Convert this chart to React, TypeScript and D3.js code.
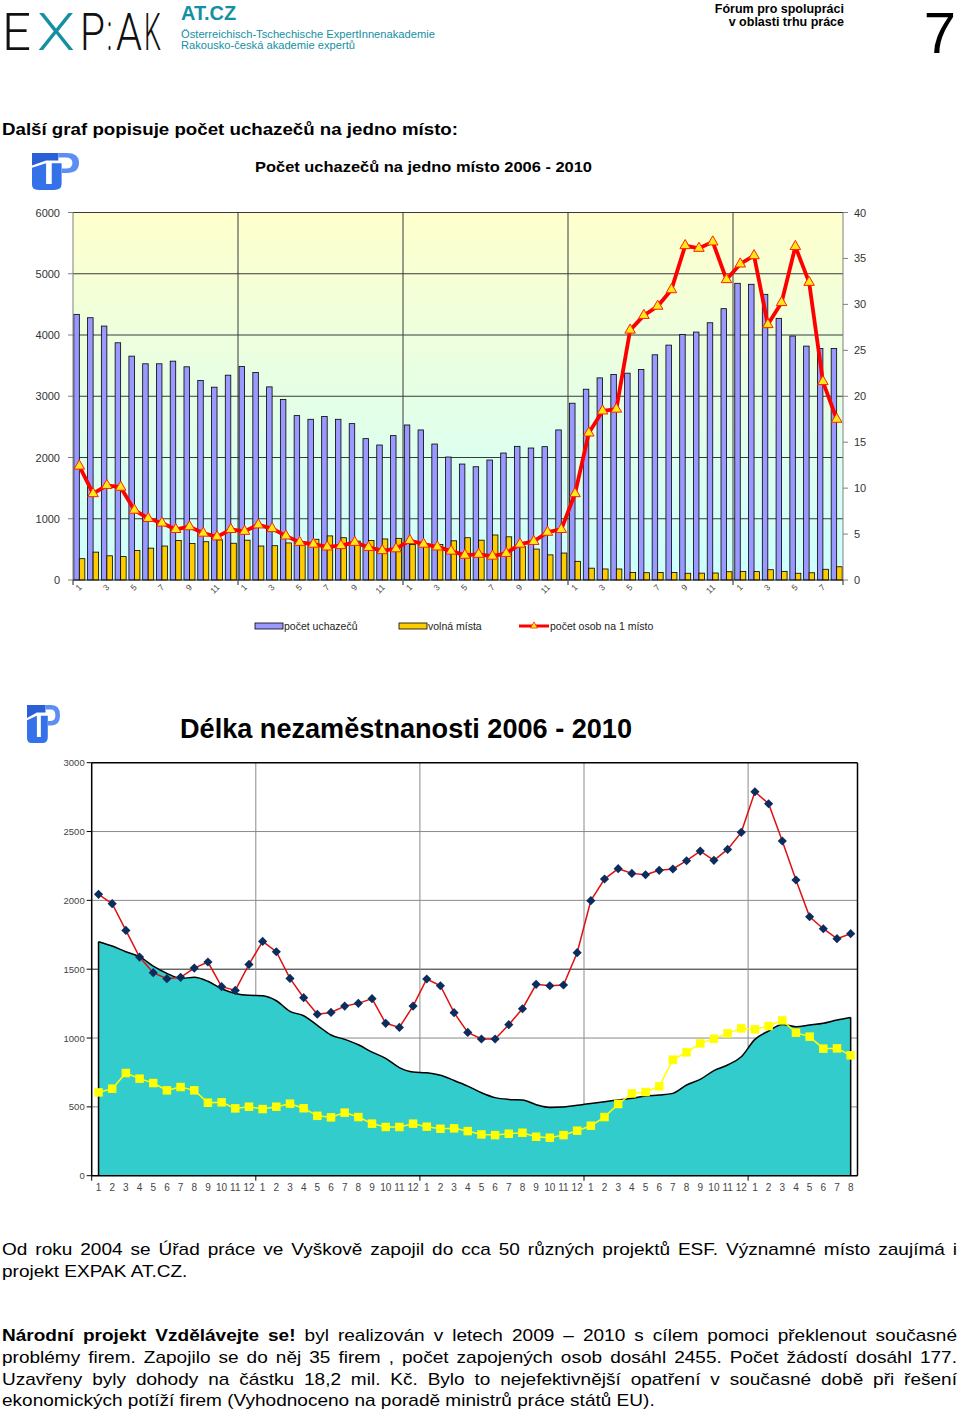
import React, { useEffect, useRef } from 'react';
import * as d3 from 'd3';

// months shown on both charts: 2006-2009 full years, 2010 until August
const years = ['2006', '2007', '2008', '2009', '2010'];
const monthCounts = [12, 12, 12, 12, 8];

// chart 1: pocet uchazecu / volna mista (left axis), osob na 1 misto (right axis)
const uchazeci = [
  4337, 4282, 4146, 3873, 3655, 3530, 3530, 3573, 3481, 3257, 3148, 3344,
  3486, 3388, 3153, 2946, 2684, 2624, 2668, 2624, 2553, 2308, 2204, 2357,
  2531, 2450, 2220, 2008, 1893, 1849, 1959, 2073, 2182, 2155, 2177, 2450,
  2886, 3115, 3300, 3355, 3377, 3437, 3677, 3835, 4010, 4048, 4200, 4430,
  4844, 4828, 4664, 4272, 3983, 3819, 3781, 3781,
];
const volnaMista = [
  348, 455, 395, 382, 480, 520, 555, 645, 595, 625, 655, 600,
  650, 555, 560, 605, 625, 665, 720, 690, 635, 645, 670, 680,
  580, 590, 580, 640, 690, 650, 735, 705, 550, 505, 410, 440,
  305, 193, 180, 180, 124, 119, 123, 121, 110, 112, 114, 135,
  141, 137, 168, 141, 110, 118, 175, 216,
];
const osobNaMisto = [
  12.4, 9.4, 10.3, 10.1, 7.6, 6.7, 6.2, 5.5, 5.8, 5.1, 4.7, 5.5,
  5.3, 6.0, 5.6, 4.8, 4.1, 3.9, 3.6, 3.75, 4.1, 3.55, 3.2, 3.4,
  4.3, 3.9, 3.6, 3.15, 2.7, 2.8, 2.6, 2.9, 3.9, 4.2, 5.2, 5.5,
  9.4, 16.0, 18.4, 18.6, 27.2, 28.8, 29.8, 31.6, 36.4, 36.1, 36.8, 32.7,
  34.4, 35.3, 27.8, 30.2, 36.3, 32.4, 21.6, 17.5,
];
const leftTicks1 = [0, 1000, 2000, 3000, 4000, 5000, 6000];
const rightTicks1 = [0, 5, 10, 15, 20, 25, 30, 35, 40];
const xLabelMonths1 = [1, 3, 5, 7, 9, 11];

// chart 2: delka nezamestnanosti
const delkaPlocha = [
  1700, 1668, 1627, 1591, 1523, 1470, 1433, 1441, 1412, 1358, 1324, 1310,
  1307, 1271, 1194, 1162, 1092, 1022, 990, 951, 898, 852, 785, 753,
  748, 729, 692, 651, 603, 567, 554, 550, 516, 496, 499, 511,
  525, 538, 550, 562, 579, 586, 598, 659, 700, 763, 804, 864,
  990, 1051, 1099, 1082, 1094, 1107, 1131, 1150,
];
const delkaCervena = [
  2044, 1976, 1782, 1588, 1475, 1431, 1441, 1508, 1552, 1373, 1346, 1535,
  1702, 1627, 1433, 1293, 1173, 1186, 1232, 1252, 1286, 1107, 1077, 1232,
  1429, 1380, 1184, 1041, 993, 993, 1097, 1213, 1390, 1380, 1385, 1620,
  1998, 2155, 2230, 2196, 2186, 2218, 2228, 2288, 2358, 2291, 2370, 2494,
  2789, 2702, 2431, 2148, 1881, 1794, 1722, 1758,
];
const delkaZluta = [
  605, 632, 746, 705, 673, 620, 644, 620, 530, 533, 489, 501,
  484, 501, 523, 490, 435, 424, 458, 426, 378, 354, 354, 378,
  356, 341, 344, 324, 300, 295, 305, 312, 283, 276, 295, 327,
  363, 426, 521, 598, 608, 649, 843, 896, 961, 995, 1034, 1070,
  1063, 1087, 1128, 1039, 1010, 923, 925, 874,
];
const ticks2 = [0, 500, 1000, 1500, 2000, 2500, 3000];

const legend1 = ['počet uchazečů', 'volná místa', 'počet osob na 1 místo'];

const para1 = [
  'Od roku 2004 se Úřad práce ve Vyškově zapojil do cca 50 různých projektů ESF. Významné místo zaujímá i',
  'projekt EXPAK AT.CZ.',
];
const para2Bold = 'Národní projekt Vzdělávejte se!';
const para2 = [
  ' byl realizován  v letech 2009 – 2010 s cílem pomoci překlenout současné',
  'problémy firem. Zapojilo se do něj 35  firem , počet zapojených osob dosáhl 2455. Počet žádostí dosáhl 177.',
  'Uzavřeny byly dohody na částku 18,2 mil. Kč. Bylo to nejefektivnější opatření v současné době při řešení',
  'ekonomických potíží firem (Vyhodnoceno na poradě ministrů práce  států EU).',
];

const FONT = '"Liberation Sans", Arial, sans-serif';
const TEAL = '#1590a3';

const months = years.flatMap((y, i) =>
  d3.range(1, monthCounts[i] + 1).map((m) => ({ key: `${y}-${m}`, year: y, m }))
);
const keys = months.map((d) => d.key);
const yearStarts = months.filter((d) => d.m === 1);

function drawLogo(g, x, y, w, h) {
  const lg = g.append('g').attr('transform', `translate(${x},${y}) scale(${w},${h})`);
  lg.append('path')
    .attr('d', 'M0,0 L0.56,0 L0.56,0.2 L0.3,0.2 L0,0.34 Z')
    .attr('fill', '#2a5fd8');
  lg.append('path')
    .attr('d', 'M0,0.4 L0.3,0.28 L0.3,0.84 L0.42,0.84 L0.42,0.28 L0.63,0.28 L0.63,0.84 Q0.63,1 0.47,1 L0.14,1 Q0,1 0,0.86 Z')
    .attr('fill', '#3572ea');
  lg.append('path')
    .attr('d', 'M0.56,0 L0.74,0 Q1,0 1,0.27 Q1,0.54 0.74,0.54 L0.63,0.54 L0.63,0.42 L0.72,0.42 Q0.86,0.42 0.86,0.27 Q0.86,0.12 0.72,0.12 L0.56,0.12 Z')
    .attr('fill', '#5d8ff2');
}

function justify(sel, width) {
  const node = sel.node();
  const natural = node.getComputedTextLength();
  const gaps = (node.textContent.trim().match(/\s+/g) || []).length;
  if (gaps) sel.attr('word-spacing', Math.max(0, (width - natural) / gaps));
}

function drawHeader(svg) {
  // EXPAK logo lettering
  const letters = [
    { t: 'E', x: 2, w: 29, c: '#111' },
    { t: 'X', x: 37, w: 38, c: TEAL },
    { t: 'P', x: 80, w: 25, c: '#111' },
    { t: ':', x: 107, w: 5, c: '#111' },
    { t: 'A', x: 116, w: 26, c: '#111' },
    { t: 'K', x: 144, w: 17, c: '#111' },
  ];
  const lg = svg.append('g').attr('transform', 'translate(0,50) scale(1,1.2)');
  lg.selectAll('text').data(letters).enter().append('text')
    .attr('x', (d) => d.x).attr('y', 0)
    .attr('font-family', 'Roboto, "DejaVu Sans", sans-serif')
    .attr('font-weight', 300)
    .attr('font-size', 43)
    .attr('textLength', (d) => d.w)
    .attr('lengthAdjust', 'spacingAndGlyphs')
    .attr('fill', (d) => d.c)
    .text((d) => d.t);

  svg.append('text').attr('x', 181).attr('y', 20)
    .attr('font-family', FONT).attr('font-weight', 'bold').attr('font-size', 20)
    .attr('fill', TEAL).text('AT.CZ');
  svg.append('text').attr('x', 181).attr('y', 38)
    .attr('font-family', FONT).attr('font-size', 11.5).attr('fill', TEAL)
    .attr('textLength', 254).attr('lengthAdjust', 'spacingAndGlyphs')
    .text('Österreichisch-Tschechische ExpertInnenakademie');
  svg.append('text').attr('x', 181).attr('y', 49)
    .attr('font-family', FONT).attr('font-size', 11.5).attr('fill', TEAL)
    .attr('textLength', 174).attr('lengthAdjust', 'spacingAndGlyphs')
    .text('Rakousko-česká akademie expertů');

  svg.append('text').attr('x', 844).attr('y', 13)
    .attr('font-family', FONT).attr('font-weight', 'bold').attr('font-size', 12.5)
    .attr('text-anchor', 'end').text('Fórum pro spolupráci');
  svg.append('text').attr('x', 844).attr('y', 26)
    .attr('font-family', FONT).attr('font-weight', 'bold').attr('font-size', 12.5)
    .attr('text-anchor', 'end').text('v oblasti trhu práce');
  svg.append('text').attr('x', 956).attr('y', 53)
    .attr('font-family', FONT).attr('font-size', 58)
    .attr('text-anchor', 'end').text('7');

  svg.append('text').attr('x', 2).attr('y', 135)
    .attr('font-family', FONT).attr('font-weight', 'bold').attr('font-size', 17)
    .attr('textLength', 456).attr('lengthAdjust', 'spacingAndGlyphs')
    .text('Další graf popisuje počet uchazečů na jedno místo:');
}

function drawChart1(svg) {
  const c = { left: 73, right: 843, top: 212.5, bottom: 580 };
  const xs = d3.scaleBand().domain(keys).range([c.left, c.right]);
  const x0 = d3.scaleBand().domain(keys).range([c.left, c.right]).paddingInner(0.2).paddingOuter(0.06);
  const x1 = d3.scaleBand().domain(['u', 'v']).range([0, x0.bandwidth()]);
  const cx = (k) => x0(k) + x0.bandwidth() / 2;
  const yL = d3.scaleLinear().domain([0, 6000]).range([c.bottom, c.top]);
  const yR = d3.scaleLinear().domain([0, 40]).range([c.bottom, c.top]);

  const grad = svg.append('defs').append('linearGradient')
    .attr('id', 'bg1').attr('x1', 0).attr('y1', 0).attr('x2', 0).attr('y2', 1);
  grad.append('stop').attr('offset', '0%').attr('stop-color', '#ffffcc');
  grad.append('stop').attr('offset', '100%').attr('stop-color', '#ccffff');

  drawLogo(svg, 32, 153, 47, 37);
  svg.append('text').attr('x', 255).attr('y', 172)
    .attr('font-family', FONT).attr('font-weight', 'bold').attr('font-size', 15)
    .attr('textLength', 337).attr('lengthAdjust', 'spacingAndGlyphs')
    .text('Počet uchazečů na jedno místo 2006 - 2010');

  const g = svg.append('g');
  g.append('rect').attr('x', c.left).attr('y', c.top)
    .attr('width', c.right - c.left).attr('height', c.bottom - c.top)
    .attr('fill', 'url(#bg1)');

  g.selectAll('.grid').data(leftTicks1.slice(1)).enter().append('line')
    .attr('x1', c.left).attr('x2', c.right)
    .attr('y1', (d) => yL(d)).attr('y2', (d) => yL(d))
    .attr('stroke', '#3a3a3a').attr('stroke-width', 1);
  g.selectAll('.yr').data(yearStarts.slice(1)).enter().append('line')
    .attr('x1', (d) => xs(d.key)).attr('x2', (d) => xs(d.key))
    .attr('y1', c.top).attr('y2', c.bottom)
    .attr('stroke', '#3a3a3a').attr('stroke-width', 1);

  g.selectAll('.bu').data(months).enter().append('rect')
    .attr('x', (d) => x0(d.key) + x1('u'))
    .attr('width', x1.bandwidth())
    .attr('y', (d, i) => yL(uchazeci[i]))
    .attr('height', (d, i) => c.bottom - yL(uchazeci[i]))
    .attr('fill', '#9999ff').attr('stroke', '#000').attr('stroke-width', 0.8);
  g.selectAll('.bv').data(months).enter().append('rect')
    .attr('x', (d) => x0(d.key) + x1('v'))
    .attr('width', x1.bandwidth())
    .attr('y', (d, i) => yL(volnaMista[i]))
    .attr('height', (d, i) => c.bottom - yL(volnaMista[i]))
    .attr('fill', '#ffcc00').attr('stroke', '#000').attr('stroke-width', 0.8);

  // axes
  g.append('line').attr('x1', c.left).attr('x2', c.left).attr('y1', c.top).attr('y2', c.bottom)
    .attr('stroke', '#808080');
  g.append('line').attr('x1', c.right).attr('x2', c.right).attr('y1', c.top).attr('y2', c.bottom)
    .attr('stroke', '#808080');
  g.append('line').attr('x1', c.left).attr('x2', c.right).attr('y1', c.bottom).attr('y2', c.bottom)
    .attr('stroke', '#222');

  g.selectAll('.lt').data(leftTicks1).enter().append('line')
    .attr('x1', c.left - 5).attr('x2', c.left)
    .attr('y1', (d) => yL(d)).attr('y2', (d) => yL(d)).attr('stroke', '#808080');
  g.selectAll('.ll').data(leftTicks1).enter().append('text')
    .attr('x', c.left - 13).attr('y', (d) => yL(d) + 4)
    .attr('text-anchor', 'end').attr('font-family', FONT).attr('font-size', 11)
    .attr('fill', '#333').text((d) => d);
  g.selectAll('.rt').data(rightTicks1).enter().append('line')
    .attr('x1', c.right).attr('x2', c.right + 5)
    .attr('y1', (d) => yR(d)).attr('y2', (d) => yR(d)).attr('stroke', '#808080');
  g.selectAll('.rl').data(rightTicks1).enter().append('text')
    .attr('x', c.right + 11).attr('y', (d) => yR(d) + 4)
    .attr('font-family', FONT).attr('font-size', 11)
    .attr('fill', '#333').text((d) => d);

  g.selectAll('.bt').data(yearStarts.concat([{ key: 'end', year: '', m: 0 }])).enter().append('line')
    .attr('x1', (d) => (d.key === 'end' ? c.right : xs(d.key)))
    .attr('x2', (d) => (d.key === 'end' ? c.right : xs(d.key)))
    .attr('y1', c.bottom).attr('y2', c.bottom + 5).attr('stroke', '#222');

  g.selectAll('.xl').data(months.filter((d) => xLabelMonths1.includes(d.m))).enter().append('text')
    .attr('transform', (d) => `translate(${cx(d.key) + 3},${c.bottom + 8}) rotate(-45)`)
    .attr('text-anchor', 'end').attr('font-family', FONT).attr('font-size', 8.5)
    .attr('fill', '#444').text((d) => d.m);

  // ratio line
  const line = d3.line().x((d) => cx(d.key)).y((d, i) => yR(osobNaMisto[i]));
  g.append('path').datum(months).attr('d', line)
    .attr('fill', 'none').attr('stroke', '#ff0000').attr('stroke-width', 3.8)
    .attr('stroke-linejoin', 'round');
  const tri = d3.symbol().type(d3.symbolTriangle).size(48);
  g.selectAll('.tri').data(months).enter().append('path')
    .attr('d', tri)
    .attr('transform', (d, i) => `translate(${cx(d.key)},${yR(osobNaMisto[i])})`)
    .attr('fill', '#ffe81a').attr('stroke', '#ff2200').attr('stroke-width', 1);

  // legend
  const lg = svg.append('g').attr('font-family', FONT).attr('font-size', 10.5).attr('fill', '#222');
  lg.append('rect').attr('x', 255).attr('y', 623).attr('width', 28).attr('height', 6)
    .attr('fill', '#9999ff').attr('stroke', '#000').attr('stroke-width', 0.8);
  lg.append('text').attr('x', 284).attr('y', 630).text(legend1[0]);
  lg.append('rect').attr('x', 399).attr('y', 623).attr('width', 28).attr('height', 6)
    .attr('fill', '#ffcc00').attr('stroke', '#000').attr('stroke-width', 0.8);
  lg.append('text').attr('x', 428).attr('y', 630).text(legend1[1]);
  lg.append('line').attr('x1', 519).attr('x2', 549).attr('y1', 626).attr('y2', 626)
    .attr('stroke', '#ff0000').attr('stroke-width', 3);
  lg.append('path').attr('d', d3.symbol().type(d3.symbolTriangle).size(22))
    .attr('transform', 'translate(534,626)').attr('fill', '#ffe81a').attr('stroke', '#ff2200').attr('stroke-width', 0.8);
  lg.append('text').attr('x', 550).attr('y', 630).text(legend1[2]);
}

function drawChart2(svg) {
  const c = { left: 91.7, right: 857.5, top: 762.7, bottom: 1175.7 };
  const xs = d3.scaleBand().domain(keys).range([c.left, c.right]);
  const cx = (k) => xs(k) + xs.bandwidth() / 2;
  const y = d3.scaleLinear().domain([0, 3000]).range([c.bottom, c.top]);

  drawLogo(svg, 27, 705, 33, 38);
  svg.append('text').attr('x', 180).attr('y', 738)
    .attr('font-family', FONT).attr('font-weight', 'bold').attr('font-size', 28)
    .attr('textLength', 452).attr('lengthAdjust', 'spacingAndGlyphs')
    .text('Délka nezaměstnanosti 2006 - 2010');

  const g = svg.append('g');
  g.selectAll('.grid').data(ticks2.slice(1, -1)).enter().append('line')
    .attr('x1', c.left).attr('x2', c.right)
    .attr('y1', (d) => y(d)).attr('y2', (d) => y(d))
    .attr('stroke', (d) => (d === 1500 ? '#222' : '#8a8a8a')).attr('stroke-width', 1);
  g.selectAll('.yr').data(yearStarts.slice(1)).enter().append('line')
    .attr('x1', (d) => xs(d.key)).attr('x2', (d) => xs(d.key))
    .attr('y1', c.top).attr('y2', c.bottom)
    .attr('stroke', '#8a8a8a').attr('stroke-width', 1);

  const area = d3.area().x((d) => cx(d.key)).y0(c.bottom).y1((d, i) => y(delkaPlocha[i]))
    .curve(d3.curveMonotoneX);
  const areaTop = d3.line().x((d) => cx(d.key)).y((d, i) => y(delkaPlocha[i]))
    .curve(d3.curveMonotoneX);
  g.append('path').datum(months).attr('d', area).attr('fill', '#33cccc');
  g.append('path').datum(months).attr('d', areaTop)
    .attr('fill', 'none').attr('stroke', '#000').attr('stroke-width', 1.5);
  const ends = [months[0], months[months.length - 1]];
  g.selectAll('.edge').data(ends).enter().append('line')
    .attr('x1', (d) => cx(d.key)).attr('x2', (d) => cx(d.key))
    .attr('y1', (d) => y(delkaPlocha[keys.indexOf(d.key)])).attr('y2', c.bottom)
    .attr('stroke', '#000').attr('stroke-width', 1.5);

  // frame
  g.append('line').attr('x1', c.left).attr('x2', c.right).attr('y1', c.top).attr('y2', c.top)
    .attr('stroke', '#000').attr('stroke-width', 1.5);
  g.append('line').attr('x1', c.right).attr('x2', c.right).attr('y1', c.top).attr('y2', c.bottom)
    .attr('stroke', '#000').attr('stroke-width', 1.5);
  g.append('line').attr('x1', c.left).attr('x2', c.left).attr('y1', c.top).attr('y2', c.bottom)
    .attr('stroke', '#000').attr('stroke-width', 1.5);
  g.append('line').attr('x1', c.left).attr('x2', c.right).attr('y1', c.bottom).attr('y2', c.bottom)
    .attr('stroke', '#000').attr('stroke-width', 1.5);

  g.selectAll('.lt').data(ticks2).enter().append('line')
    .attr('x1', c.left - 5).attr('x2', c.left)
    .attr('y1', (d) => y(d)).attr('y2', (d) => y(d)).attr('stroke', '#000');
  g.selectAll('.ll').data(ticks2).enter().append('text')
    .attr('x', c.left - 7).attr('y', (d) => y(d) + 3.5)
    .attr('text-anchor', 'end').attr('font-family', FONT).attr('font-size', 9.5)
    .attr('fill', '#444').text((d) => d);
  g.selectAll('.bt').data(yearStarts).enter().append('line')
    .attr('x1', (d) => xs(d.key)).attr('x2', (d) => xs(d.key))
    .attr('y1', c.bottom).attr('y2', c.bottom + 5).attr('stroke', '#000');
  g.selectAll('.xl').data(months).enter().append('text')
    .attr('x', (d) => cx(d.key)).attr('y', c.bottom + 15)
    .attr('text-anchor', 'middle').attr('font-family', FONT).attr('font-size', 10)
    .attr('fill', '#444').text((d) => d.m);

  // yellow series
  const lineZ = d3.line().x((d) => cx(d.key)).y((d, i) => y(delkaZluta[i]));
  g.append('path').datum(months).attr('d', lineZ)
    .attr('fill', 'none').attr('stroke', '#ffff00').attr('stroke-width', 1.5);
  const sq = d3.symbol().type(d3.symbolSquare).size(72);
  g.selectAll('.sq').data(months).enter().append('path').attr('d', sq)
    .attr('transform', (d, i) => `translate(${cx(d.key)},${y(delkaZluta[i])})`)
    .attr('fill', '#ffff00');

  // red series
  const lineC = d3.line().x((d) => cx(d.key)).y((d, i) => y(delkaCervena[i]));
  g.append('path').datum(months).attr('d', lineC)
    .attr('fill', 'none').attr('stroke', '#dd1111').attr('stroke-width', 1.5);
  const dia = d3.symbol().type(d3.symbolSquare).size(42);
  g.selectAll('.dia').data(months).enter().append('path').attr('d', dia)
    .attr('transform', (d, i) => `translate(${cx(d.key)},${y(delkaCervena[i])}) rotate(45)`)
    .attr('fill', '#0b2d5e');
}

function drawBody(svg) {
  // text in the reference is set a bit wide, so the block is stretched horizontally
  const sx = 1.12;
  const g = svg.append('g').attr('transform', `scale(${sx},1)`)
    .attr('font-family', FONT).attr('font-size', 17).attr('fill', '#000');
  const x = 2 / sx;
  const W = 955 / sx;
  const t1 = g.append('text').attr('x', x).attr('y', 1255).text(para1[0]);
  justify(t1, W);
  g.append('text').attr('x', x).attr('y', 1277).text(para1[1]);

  const t2 = g.append('text').attr('x', x).attr('y', 1341);
  t2.append('tspan').attr('font-weight', 'bold').text(para2Bold);
  t2.append('tspan').text(para2[0]);
  justify(t2, W);
  const t3 = g.append('text').attr('x', x).attr('y', 1363).text(para2[1]);
  justify(t3, W);
  const t4 = g.append('text').attr('x', x).attr('y', 1385).text(para2[2]);
  justify(t4, W);
  g.append('text').attr('x', x).attr('y', 1406).text(para2[3]);
}

const App = () => {
  const ref = useRef(null);

  useEffect(() => {
    const svg = d3.select(ref.current);
    svg.selectAll('*').remove();
    drawHeader(svg);
    drawChart1(svg);
    drawChart2(svg);
    drawBody(svg);
  }, []);

  return (
    <svg
      ref={ref}
      width={960}
      height={1413}
      style={{ position: 'absolute', left: 0, top: 0, background: '#fff' }}
    />
  );
};

export default App;
